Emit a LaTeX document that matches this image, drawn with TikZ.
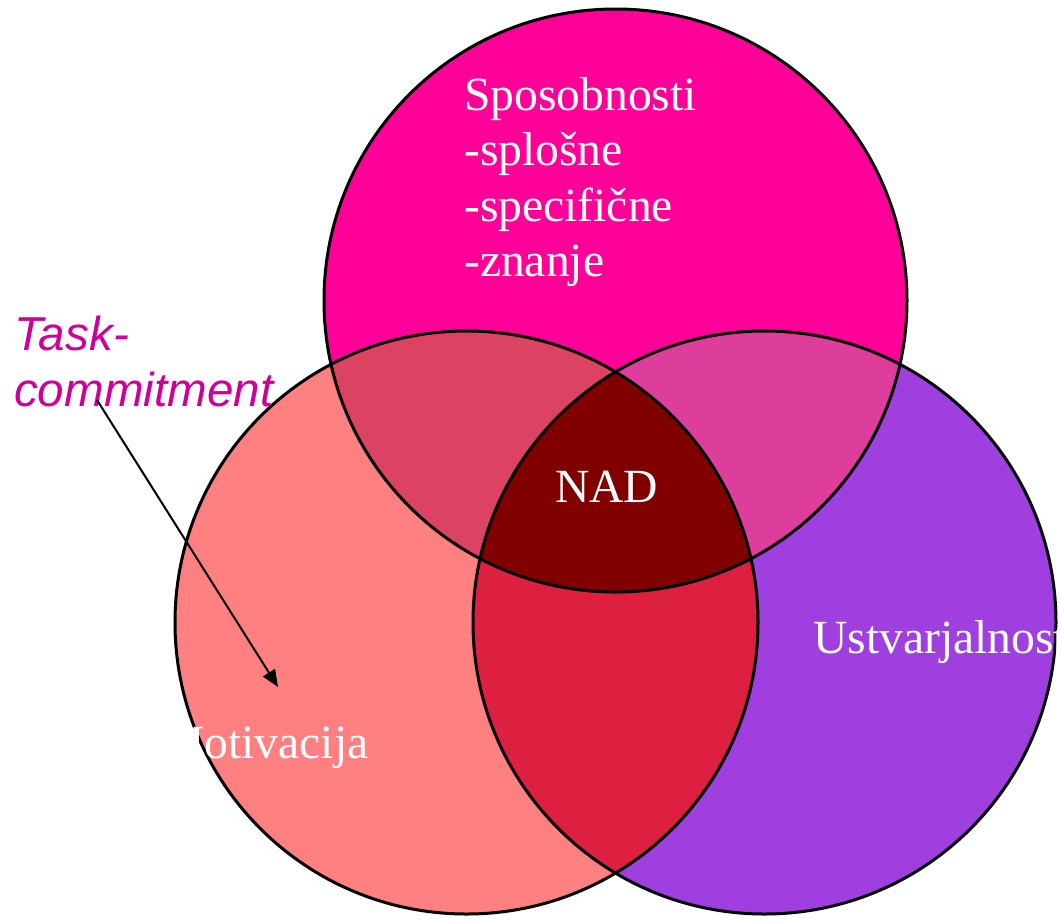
\documentclass[tikz,border=0pt]{standalone}
\usepackage{fontspec}
\setmainfont{Liberation Serif}
\newfontfamily\tasksans{Liberation Sans}
\usetikzlibrary{arrows.meta}
\definecolor{sposob}{HTML}{FF0099}
\definecolor{motiv}{HTML}{FF8080}
\definecolor{ustvar}{HTML}{9F3FDF}
\definecolor{spmo}{HTML}{DC4262}
\definecolor{spus}{HTML}{DD3E9B}
\definecolor{mous}{HTML}{DD1F40}
\definecolor{nad}{HTML}{800000}
\definecolor{task}{HTML}{CC0099}
\tikzset{
  txt/.style={text=white, inner sep=0pt, font=\fontsize{47.6}{55.5}\selectfont},
  tasktxt/.style={text=task, inner sep=0pt, font=\tasksans\itshape\fontsize{47.6}{56}\selectfont},
  rand/.style={black, line width=3pt}
}
\begin{document}
\begin{tikzpicture}[x=1pt,y=-1pt]
		% Rahmen
		\useasboundingbox (0,0) rectangle (1061,922);

		% Koordinaten
		\coordinate (s) at (615.5,300.5);
		\coordinate (m) at (466.5,622.5);
		\coordinate (u) at (764.5,622.5);
		\coordinate (pa) at (97,400);
		\coordinate (pe) at (278,687);

		% Kreise
		\fill[sposob] (s) circle (291.5pt);
		\fill[motiv] (m) circle (291.5pt);
		\fill[ustvar] (u) circle (291.5pt);

		% Schnittflaechen
		\begin{scope}
			\clip (s) circle (291.5pt);
			\fill[spmo] (m) circle (291.5pt);
			\fill[spus] (u) circle (291.5pt);
		\end{scope}
		\begin{scope}
			\clip (m) circle (291.5pt);
			\fill[mous] (u) circle (291.5pt);
			\clip (u) circle (291.5pt);
			\fill[nad] (s) circle (291.5pt);
		\end{scope}

		% Raender
		\draw[rand] (s) circle (291.5pt);
		\draw[rand] (m) circle (291.5pt);
		\draw[rand] (u) circle (291.5pt);

		% Texte
		\node[txt, anchor=north west, align=left] (sp) at (464,77) {Sposobnosti\\-splošne\\-specifične\\-znanje};
		\node[txt, anchor=base west] (na) at (555,502) {NAD};
		\node[txt, anchor=base west] (us) at (813,653) {Ustvarjalnost};
		\node[txt, anchor=base west] (mo) at (162,758) {Motivacija};
		\node[tasktxt, anchor=north west, align=left] (tc) at (14,316) {Task-\\commitment};

		% Pfeil
		\draw[line width=2pt, -{Triangle[length=17pt,width=14pt]}] (pa) -- (pe);
	\end{tikzpicture}
\end{document}
